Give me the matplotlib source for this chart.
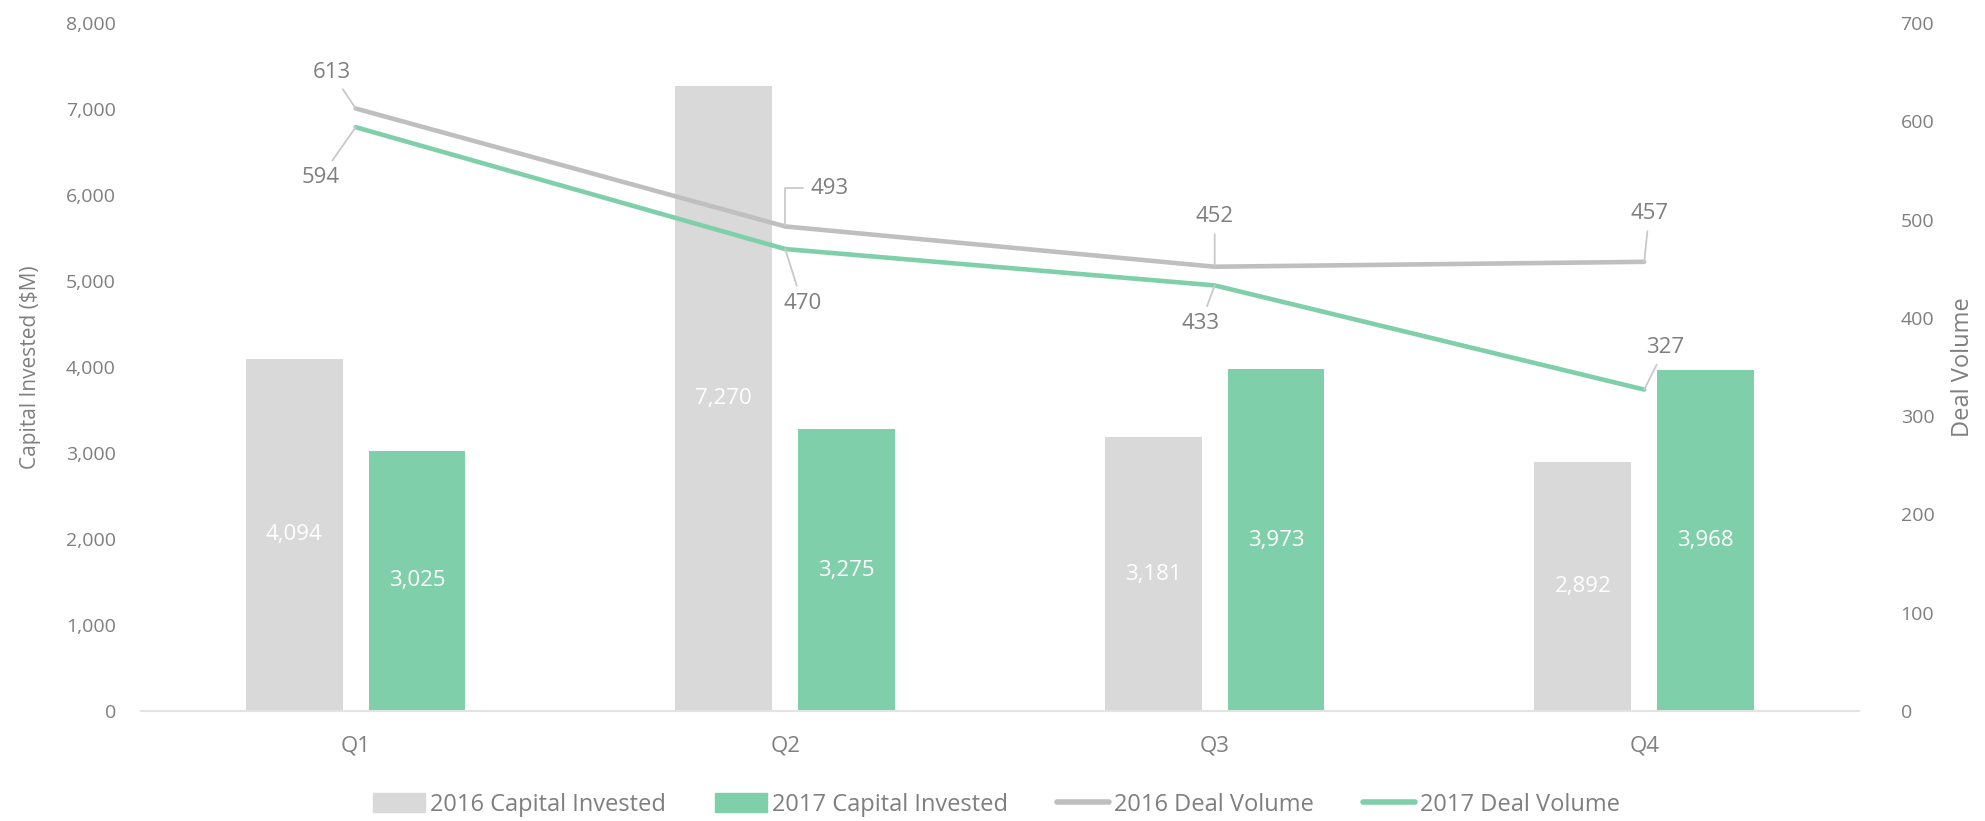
import numpy as np
import matplotlib.pyplot as plt
from matplotlib.patches import Patch
from matplotlib.lines import Line2D

quarters = ['Q1', 'Q2', 'Q3', 'Q4']
cap_2016 = [4094, 7270, 3181, 2892]
cap_2017 = [3025, 3275, 3973, 3968]
deals_2016 = [613, 493, 452, 457]
deals_2017 = [594, 470, 433, 327]

GRAY_BAR = '#D9D9D9'
GREEN_BAR = '#80CFAB'
GRAY_LINE = '#BFBFBF'
GREEN_LINE = '#7FCFAA'
TXT = '#7F7F7F'
LEAD = '#C9C9C9'

plt.rcParams['font.family'] = ['Open Sans', 'DejaVu Sans']
narrow = ['Liberation Sans Narrow', 'Open Sans', 'DejaVu Sans']

fig = plt.figure(figsize=(19.85, 8.21), dpi=100)
ax = fig.add_axes([0.071, 0.134, 0.8655, 0.838])
ax2 = ax.twinx()

x = np.arange(len(quarters))
w = 0.225
off = 0.143

b1 = ax.bar(x - off, cap_2016, w, color=GRAY_BAR, zorder=2)
b2 = ax.bar(x + off, cap_2017, w, color=GREEN_BAR, zorder=2)

for bars, vals in ((b1, cap_2016), (b2, cap_2017)):
    for r, v in zip(bars, vals):
        ax.text(r.get_x() + r.get_width() / 2, v / 2, f'{v:,}',
                ha='center', va='center', color='white', fontsize=16)

ax.set_xlim(-0.5, 3.5)
ax.set_ylim(0, 8000)
ax.set_yticks(np.arange(0, 8001, 1000))
ax.set_yticklabels([f'{t:,}' for t in range(0, 8001, 1000)])
ax.set_xticks(x)
ax.set_xticklabels(quarters, fontfamily=narrow, fontsize=16)
ax.tick_params(axis='y', length=0, pad=18, labelsize=14, labelcolor=TXT)
ax.tick_params(axis='x', length=0, pad=18, labelcolor=TXT)
ax.set_ylabel('Capital Invested ($M)', color=TXT, fontsize=15, labelpad=18)

ax2.plot(x, deals_2016, color=GRAY_LINE, lw=3.3, solid_capstyle='round', zorder=3)
ax2.plot(x, deals_2017, color=GREEN_LINE, lw=3.3, solid_capstyle='round', zorder=3)
ax2.set_ylim(0, 700)
ax2.set_yticks(np.arange(0, 701, 100))
ax2.tick_params(axis='y', length=0, pad=30, labelsize=14, labelcolor=TXT)
ax2.set_ylabel('Deal Volume', color=TXT, fontsize=17, fontfamily=narrow, labelpad=12)

for a in (ax, ax2):
    for s in ('top', 'left', 'right'):
        a.spines[s].set_visible(False)
ax.spines['bottom'].set_color('#E3E3E3')
ax.spines['bottom'].set_linewidth(1.5)
ax2.spines['bottom'].set_visible(False)

# data label offsets (pixels) for the line series
offs_2016 = [(-24, 36), (44, 38), (0, 50), (5, 48)]
offs_2017 = [(-35, -50), (17, -54), (-14, -38), (21, 42)]
conn_2016 = ['arc3', 'angle,angleA=0,angleB=90,rad=0', 'arc3', 'arc3']
for i in range(4):
    ax2.annotate(str(deals_2016[i]), (x[i], deals_2016[i]), xytext=offs_2016[i],
                 textcoords='offset pixels', ha='center', va='center',
                 color=TXT, fontsize=16, zorder=4,
                 arrowprops=dict(arrowstyle='-', color=LEAD, lw=1.3,
                                 shrinkA=3, shrinkB=0,
                                 connectionstyle=conn_2016[i]))
    ax2.annotate(str(deals_2017[i]), (x[i], deals_2017[i]), xytext=offs_2017[i],
                 textcoords='offset pixels', ha='center', va='center',
                 color=TXT, fontsize=16, zorder=4,
                 arrowprops=dict(arrowstyle='-', color=LEAD, lw=1.3,
                                 shrinkA=3, shrinkB=0))

handles = [Patch(color=GRAY_BAR), Patch(color=GREEN_BAR),
           Line2D([], [], color=GRAY_LINE, lw=4, solid_capstyle='round'),
           Line2D([], [], color=GREEN_LINE, lw=4, solid_capstyle='round')]
labels = ['2016 Capital Invested', '2017 Capital Invested',
          '2016 Deal Volume', '2017 Deal Volume']
fig.legend(handles, labels, loc='center', bbox_to_anchor=(0.502, 0.02),
           ncol=4, frameon=False, handlelength=2.2, handleheight=0.85,
           handletextpad=0.2, columnspacing=2.1,
           prop=dict(family=narrow, size=17), labelcolor=TXT)

fig.savefig('out.png', dpi=100, facecolor='white')
